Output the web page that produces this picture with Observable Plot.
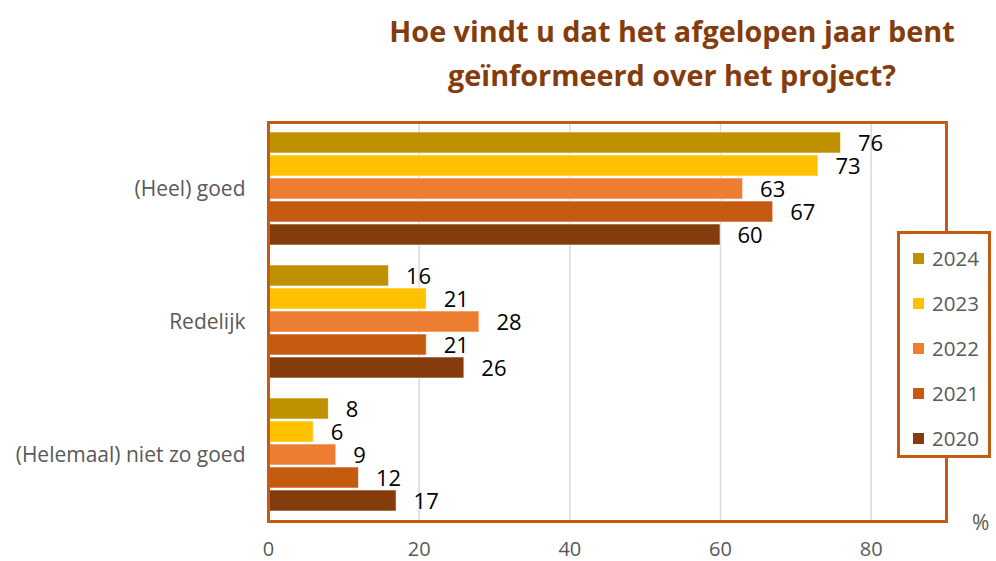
<!DOCTYPE html>
<html>
<head>
<meta charset="utf-8">
<script src="https://cdn.jsdelivr.net/npm/d3@7"></script>
<script src="https://cdn.jsdelivr.net/npm/@observablehq/plot@0.6"></script>
<style>
  html, body { margin: 0; padding: 0; background: #fff; }
  #wrap { position: relative; width: 996px; height: 561px; overflow: hidden; font-family: "Open Sans", sans-serif; }
  #title { position: absolute; left: 372px; width: 600px; top: 9px; text-align: center; color: #843c0c;
           font-weight: 700; font-size: 28.8px; line-height: 44px; }
  #legend { position: absolute; left: 897px; top: 231px; width: 88px; height: 221px; background: #fff;
            border: 3px solid #c55a11; }
  .item { position: absolute; left: 13px; display: flex; align-items: center; color: #595959; font-size: 20.5px; }
  .sw { width: 11px; height: 11px; margin-right: 8px; }
  #pct { position: absolute; left: 972px; top: 508px; color: #595959; font-size: 21px; }
</style>
</head>
<body>
<div id="wrap">
  <div id="chart"></div>
  <div id="title">Hoe vindt u dat het afgelopen jaar bent<br>geïnformeerd over het project?</div>
  <div id="legend"></div>
  <div id="pct">%</div>
</div>
<script>
const categories = ["(Heel) goed", "Redelijk", "(Helemaal) niet zo goed"];
const years = ["2024", "2023", "2022", "2021", "2020"];
const yearColors = ["#bf9000", "#ffc000", "#ed7d31", "#c55a11", "#843c0c"];
const values2024 = [76, 16, 8];
const values2023 = [73, 21, 6];
const values2022 = [63, 28, 9];
const values2021 = [67, 21, 12];
const values2020 = [60, 26, 17];
const xTicks = [0, 20, 40, 60, 80];

const series = { "2024": values2024, "2023": values2023, "2022": values2022, "2021": values2021, "2020": values2020 };
const data = [];
categories.forEach((cat, i) => years.forEach(y => data.push({ cat, year: y, value: series[y][i] })));

const plot = Plot.plot({
  width: 996,
  height: 561,
  marginTop: 122,
  marginBottom: 40,
  marginLeft: 268,
  marginRight: 50,
  style: { fontFamily: "Open Sans", fontSize: "21px", color: "#595959", background: "transparent" },
  x: { domain: [0, 90], ticks: xTicks, tickSize: 0, tickPadding: 20, label: null },
  y: { domain: years, axis: null, paddingInner: 0.08, paddingOuter: 0.385 },
  fy: { domain: categories, padding: 0, label: null, tickSize: 0, tickPadding: 23 },
  color: { domain: years, range: yearColors },
  marks: [
    Plot.ruleX(xTicks, { stroke: "#d9d9d9", strokeWidth: 1.5, strokeOpacity: 1 }),
    Plot.barX(data, { x: "value", y: "year", fy: "cat", fill: "year", stroke: "#fff", strokeWidth: 0.8, strokeOpacity: 0.7 }),
    Plot.text(data, { x: "value", y: "year", fy: "cat", text: d => String(d.value), textAnchor: "start",
                      dx: 17, dy: 1, fill: "#000", fontSize: 22 }),
    Plot.frame({ stroke: "#c55a11", strokeWidth: 3, facet: "super" })
  ]
});
d3.select(plot).selectAll("[aria-label='x-axis tick label'] text").style("font-size", "20px");
document.getElementById("chart").appendChild(plot);

const color = plot.scale("color");
const legend = d3.select("#legend");
color.domain.forEach((y, i) => {
  const item = legend.append("div").attr("class", "item").style("top", (10 + i * 45) + "px");
  item.append("div").attr("class", "sw").style("background", color.range[i]);
  item.append("span").text(y);
});
</script>
</body>
</html>
